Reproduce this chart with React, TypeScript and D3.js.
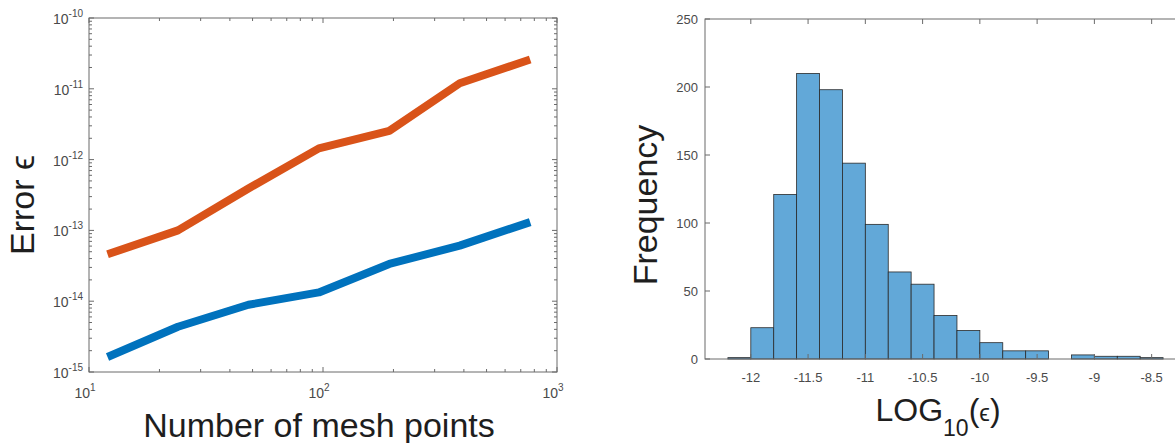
import { useRef, useEffect } from 'react';
import * as d3 from 'd3';

// left panel: error vs mesh size (log-log)
const MESH_POINTS = [12, 24, 48, 96, 192, 384, 768];
const ERR_UPPER = [4.6e-14, 1.0e-13, 3.9e-13, 1.44e-12, 2.55e-12, 1.2e-11, 2.6e-11];
const ERR_LOWER = [1.63e-15, 4.35e-15, 8.9e-15, 1.33e-14, 3.36e-14, 6.1e-14, 1.31e-13];
const LOG_X_TICKS = [10, 100, 1000];
const LOG_X_EXP = ['1', '2', '3'];
const LOG_Y_TICKS = [1e-15, 1e-14, 1e-13, 1e-12, 1e-11, 1e-10];
const LOG_Y_EXP = ['-15', '-14', '-13', '-12', '-11', '-10'];

// right panel: histogram of log10 error
const BIN_LEFT = [-12.2, -12.0, -11.8, -11.6, -11.4, -11.2, -11.0, -10.8, -10.6, -10.4, -10.2, -10.0, -9.8, -9.6, -9.4, -9.2, -9.0, -8.8, -8.6];
const BIN_COUNT = [1, 23, 121, 210, 198, 144, 99, 64, 55, 32, 21, 12, 6, 6, 0, 3, 2, 2, 1];
const BIN_WIDTH = 0.2;
const HIST_X_TICKS = [-12, -11.5, -11, -10.5, -10, -9.5, -9, -8.5];
const HIST_Y_TICKS = [0, 50, 100, 150, 200, 250];

const FONT = '"Liberation Sans", Arial, Helvetica, sans-serif';
const AXIS = '#6b6b6b';
const TICK_TXT = '#4a4a4a';
const LABEL = '#1e1e1e';

export default function App() {
  const svgRef = useRef<SVGSVGElement>(null);

  useEffect(() => {
    const svg = d3.select(svgRef.current);
    svg.selectAll('*').remove();
    svg.attr('font-family', FONT);

    // ---------- left panel ----------
    const L = { x0: 89, x1: 557, y0: 18, y1: 372 };
    const x = d3.scaleLog().domain([10, 1000]).range([L.x0, L.x1]);
    const y = d3.scaleLog().domain([1e-15, 1e-10]).range([L.y1, L.y0]);

    const lg = svg.append('g');
    const isMajor = (v: number) => Math.abs(Math.log10(v) - Math.round(Math.log10(v))) < 1e-9;

    const line = d3.line<number>()
      .x((_, i) => x(MESH_POINTS[i]))
      .y((d) => y(d));

    lg.append('path').datum(ERR_LOWER).attr('d', line)
      .attr('fill', 'none').attr('stroke', '#0072BD').attr('stroke-width', 8)
      .attr('stroke-linejoin', 'round');
    lg.append('path').datum(ERR_UPPER).attr('d', line)
      .attr('fill', 'none').attr('stroke', '#D95319').attr('stroke-width', 8)
      .attr('stroke-linejoin', 'round');

    // box
    lg.append('rect').attr('x', L.x0).attr('y', L.y0)
      .attr('width', L.x1 - L.x0).attr('height', L.y1 - L.y0)
      .attr('fill', 'none').attr('stroke', AXIS).attr('stroke-width', 1);

    // inward ticks on all four sides
    x.ticks().forEach((v) => {
      const len = isMajor(v) ? 5 : 3;
      const px = x(v);
      lg.append('line').attr('x1', px).attr('x2', px).attr('y1', L.y1).attr('y2', L.y1 - len).attr('stroke', AXIS);
      lg.append('line').attr('x1', px).attr('x2', px).attr('y1', L.y0).attr('y2', L.y0 + len).attr('stroke', AXIS);
    });
    y.ticks().forEach((v) => {
      const len = isMajor(v) ? 5 : 3;
      const py = y(v);
      lg.append('line').attr('x1', L.x0).attr('x2', L.x0 + len).attr('y1', py).attr('y2', py).attr('stroke', AXIS);
      lg.append('line').attr('x1', L.x1).attr('x2', L.x1 - len).attr('y1', py).attr('y2', py).attr('stroke', AXIS);
    });

    LOG_X_TICKS.forEach((v, i) => {
      const t = lg.append('text').attr('x', x(v) - 4).attr('y', L.y1 + 26)
        .attr('text-anchor', 'middle').attr('font-size', 14).attr('fill', TICK_TXT);
      t.append('tspan').text('10');
      t.append('tspan').attr('font-size', 10).attr('dy', -7).text(LOG_X_EXP[i]);
    });
    LOG_Y_TICKS.forEach((v, i) => {
      const t = lg.append('text').attr('x', L.x0 - 6).attr('y', y(v) + 6)
        .attr('text-anchor', 'end').attr('font-size', 14).attr('fill', TICK_TXT);
      t.append('tspan').text('10');
      t.append('tspan').attr('font-size', 10).attr('dy', -7).text(LOG_Y_EXP[i]);
    });

    lg.append('text').attr('x', (L.x0 + L.x1) / 2 - 4).attr('y', 437)
      .attr('text-anchor', 'middle').attr('font-size', 34).attr('fill', LABEL)
      .text('Number of mesh points');
    lg.append('text').attr('transform', `translate(34,205) rotate(-90)`)
      .attr('text-anchor', 'middle').attr('font-size', 34).attr('fill', LABEL)
      .text('Error \u03F5');

    // ---------- right panel ----------
    const R = { x0: 705, x1: 1186, y0: 19, y1: 359 };
    const hx = d3.scaleLinear().domain([-12.4, -8.2]).range([R.x0, R.x1]);
    const hy = d3.scaleLinear().domain([0, 250]).range([R.y1, R.y0]);
    const rg = svg.append('g');

    rg.selectAll('rect.bin')
      .data(BIN_LEFT.map((b, i) => ({ b, c: BIN_COUNT[i] })).filter((d) => d.c > 0))
      .join('rect')
      .attr('class', 'bin')
      .attr('x', (d) => hx(d.b))
      .attr('width', (d) => hx(d.b + BIN_WIDTH) - hx(d.b))
      .attr('y', (d) => hy(d.c))
      .attr('height', (d) => hy(0) - hy(d.c))
      .attr('fill', '#62A8D8')
      .attr('stroke', '#2a2a2a')
      .attr('stroke-width', 0.8);

    rg.append('rect').attr('x', R.x0).attr('y', R.y0)
      .attr('width', R.x1 - R.x0).attr('height', R.y1 - R.y0)
      .attr('fill', 'none').attr('stroke', AXIS).attr('stroke-width', 1);

    HIST_X_TICKS.forEach((v) => {
      const px = hx(v);
      rg.append('line').attr('x1', px).attr('x2', px).attr('y1', R.y1).attr('y2', R.y1 - 5).attr('stroke', AXIS);
      rg.append('line').attr('x1', px).attr('x2', px).attr('y1', R.y0).attr('y2', R.y0 + 5).attr('stroke', AXIS);
      rg.append('text').attr('x', px).attr('y', R.y1 + 23)
        .attr('text-anchor', 'middle').attr('font-size', 13).attr('fill', TICK_TXT)
        .text(String(v));
    });
    HIST_Y_TICKS.forEach((v) => {
      const py = hy(v);
      rg.append('line').attr('x1', R.x0).attr('x2', R.x0 + 5).attr('y1', py).attr('y2', py).attr('stroke', AXIS);
      rg.append('text').attr('x', R.x0 - 7).attr('y', py)
        .attr('dominant-baseline', 'central')
        .attr('text-anchor', 'end').attr('font-size', 13).attr('fill', TICK_TXT)
        .text(String(v));
    });

    rg.append('text').attr('transform', `translate(657,205) rotate(-90)`)
      .attr('text-anchor', 'middle').attr('font-size', 34).attr('fill', LABEL)
      .text('Frequency');

    const xl = rg.append('text').attr('x', 938).attr('y', 421)
      .attr('text-anchor', 'middle').attr('font-size', 32).attr('fill', LABEL);
    xl.append('tspan').text('LOG');
    xl.append('tspan').attr('font-size', 23).attr('dy', 15).text('10');
    xl.append('tspan').attr('dy', -15).text('(');
    xl.append('tspan').attr('font-size', 24).text('\u03F5');
    xl.append('tspan').text(')');
  }, []);

  return (
    <svg
      ref={svgRef}
      width={1175}
      height={443}
      style={{ position: 'absolute', left: 0, top: 0, background: '#fff' }}
    />
  );
}
